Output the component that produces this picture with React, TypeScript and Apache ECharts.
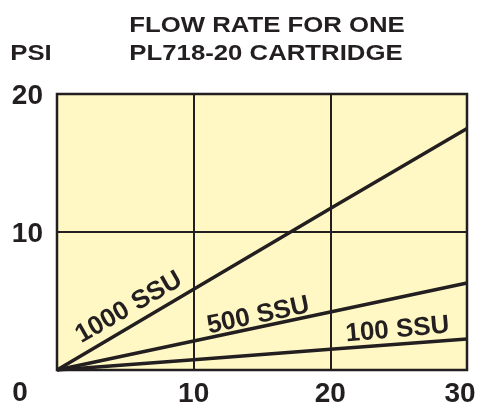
import React, { useEffect, useRef } from "react";
import * as echarts from "echarts";

const flowTicks = [0, 10, 20, 30];
const psi1000 = [0, 5.85, 11.7, 17.5];
const psi500 = [0, 2.1, 4.2, 6.3];
const psi100 = [0, 0.75, 1.5, 2.25];
const seriesNames = ["1000 SSU", "500 SSU", "100 SSU"];
const labelAnchors = [
  [5.2, 4.64],
  [14.7, 4.06],
  [24.9, 3.04],
];
const labelAngles = [30, 12, 5];
const titleLines = ["FLOW RATE FOR ONE", "PL718-20 CARTRIDGE"];
const yAxisName = "PSI";

const INK = "#231F20";
const FONT = "'Liberation Sans', Arial, Helvetica, sans-serif";

export default function App() {
  const ref = useRef<HTMLDivElement>(null);
  useEffect(() => {
    if (!ref.current) return;
    const chart = echarts.init(ref.current, undefined, { renderer: "svg" });
    const all = [psi1000, psi500, psi100];
    const series = all.map((vals, i) => ({
      type: "line",
      name: seriesNames[i],
      data: flowTicks.map((x, j) => [x, vals[j]]),
      showSymbol: false,
      symbol: "none",
      lineStyle: { color: INK, width: 3.5 },
      z: 5,
      markPoint: {
        symbol: "circle",
        symbolSize: 0,
        silent: true,
        data: [{ coord: labelAnchors[i], name: seriesNames[i] }],
        label: {
          show: true,
          position: "inside",
          formatter: seriesNames[i],
          rotate: labelAngles[i],
          color: INK,
          fontFamily: FONT,
          fontWeight: "bold",
          fontSize: 26,
        },
      },
    }));
    const titleStyle = {
      fontFamily: FONT,
      fontWeight: "bold",
      fontSize: 23,
      fill: INK,
      textAlign: "center",
      textVerticalAlign: "middle",
    };
    const tickFont = {
      color: INK,
      fontFamily: FONT,
      fontWeight: "bold",
      fontSize: 28,
    };
    const xMax = flowTicks[flowTicks.length - 1];
    chart.setOption({
      animation: false,
      grid: {
        left: 57,
        top: 94,
        width: 410,
        height: 276,
        outerBoundsMode: "none",
        containLabel: false,
        show: true,
        backgroundColor: "#FFF8C4",
        borderColor: INK,
        borderWidth: 2.5,
      },
      xAxis: {
        type: "value",
        min: 0,
        max: xMax,
        interval: 10,
        axisLine: { show: false },
        axisTick: { show: false },
        splitLine: { show: true, lineStyle: { color: INK, width: 2 } },
        axisLabel: {
          margin: 8,
          ...tickFont,
          formatter: (v: number) =>
            v === 0 ? "" : v === xMax ? `{r|${v}}` : String(v),
          rich: {
            r: { ...tickFont, padding: [0, 14, 0, 0] },
          },
        },
      },
      yAxis: {
        type: "value",
        min: 0,
        max: 20,
        interval: 10,
        axisLine: { show: false },
        axisTick: { show: false },
        splitLine: { show: true, lineStyle: { color: INK, width: 2 } },
        axisLabel: {
          margin: 14,
          ...tickFont,
          padding: [4, 0, 0, 0],
          formatter: (v: number) => (v === 0 ? "" : String(v)),
        },
      },
      graphic: [
        {
          type: "text",
          x: 267,
          y: 24,
          scaleX: 1.12,
          style: { ...titleStyle, text: titleLines[0] },
        },
        {
          type: "text",
          x: 266,
          y: 52,
          scaleX: 1.12,
          style: { ...titleStyle, text: titleLines[1] },
        },
        {
          type: "text",
          x: 31,
          y: 52,
          scaleX: 1.12,
          style: { ...titleStyle, text: yAxisName },
        },
        {
          type: "text",
          x: 20,
          y: 391,
          style: {
            ...titleStyle,
            fontSize: 28,
            text: "0",
          },
        },
      ],
      series,
    });
    return () => chart.dispose();
  }, []);
  return (
    <div
      ref={ref}
      style={{ position: "fixed", left: 0, top: 0, width: 479, height: 406 }}
    />
  );
}
